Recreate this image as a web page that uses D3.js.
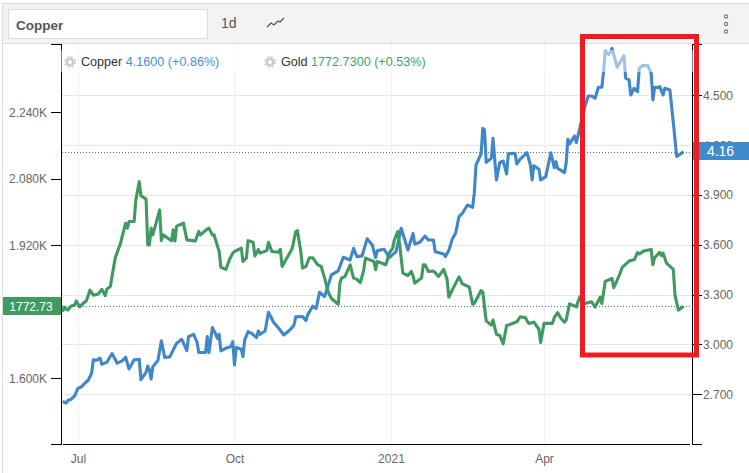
<!DOCTYPE html>
<html>
<head>
<meta charset="utf-8">
<script src="https://cdn.jsdelivr.net/npm/d3@7/dist/d3.min.js"></script>
<style>
    html, body { margin: 0; padding: 0; background: #fff; }
    svg { display: block; font-family: "Liberation Sans", Arial, sans-serif; }
    .tick text { fill: #666; font-size: 12px; }
    .axis path, .axis line { stroke: #000; shape-rendering: crispEdges; }
</style>
</head>
<body>
<div id="chart"></div>
<script>
// all days are counted from 1 Jul 2020
var copperDays = [-9,-7,-6,-4,-2,0,2,4,6,8,9,11,13,14,17,20,22,23,26,28,30,33,36,37,40,41,42,43,44,47,49,51,54,56,58,61,64,65,68,70,71,75,76,77,79,81,82,83,84,87,90,91,92,93,96,97,98,100,102,105,106,107,110,112,115,118,121,125,127,128,132,134,135,138,140,142,145,149,153,156,160,162,164,167,170,173,175,176,180,183,187,190,194,197,198,201,204,206,209,210,215,216,218,220,222,224,226,229,232,233,234,237,238,239,240,243,244,246,248,250,252,253,257,258,260,264,266,267,268,271,272,275,278,280,281,282,286,287,288,289,292,293,295,298,300,302,304,306,308,309,310,312,313,314,317,321,322,324,325,327,329,330,332,335,337,338,339,341,342,344,345,348,350,352,356];
var copperValues = [2.656,2.646,2.662,2.670,2.690,2.736,2.744,2.766,2.784,2.826,2.907,2.905,2.917,2.880,2.893,2.945,2.907,2.887,2.901,2.923,2.852,2.907,2.911,2.788,2.832,2.870,2.846,2.792,2.866,2.903,3.021,2.921,2.925,2.967,3.007,3.031,2.963,3.047,3.061,3.013,2.951,2.951,3.047,2.951,3.101,3.061,3.037,3.061,2.961,2.977,2.987,3.017,2.876,2.981,2.971,2.927,3.027,3.077,3.067,3.041,3.081,3.061,3.081,3.194,3.134,3.097,3.057,3.091,3.117,3.166,3.168,3.144,3.178,3.230,3.216,3.314,3.288,3.419,3.443,3.525,3.509,3.579,3.529,3.533,3.636,3.599,3.523,3.565,3.573,3.523,3.559,3.700,3.569,3.669,3.605,3.615,3.653,3.629,3.629,3.559,3.545,3.529,3.565,3.633,3.670,3.770,3.790,3.840,3.826,3.911,4.081,4.148,4.302,4.292,4.097,4.121,4.242,3.991,4.097,4.105,4.027,4.148,4.152,4.087,4.117,4.155,4.081,3.991,4.077,4.055,3.991,4.011,4.155,4.065,4.101,4.061,4.035,4.091,4.236,4.208,4.256,4.216,4.302,4.433,4.497,4.497,4.483,4.549,4.549,4.644,4.768,4.748,4.760,4.784,4.670,4.740,4.604,4.594,4.503,4.543,4.523,4.664,4.680,4.680,4.634,4.473,4.549,4.547,4.553,4.503,4.543,4.533,4.338,4.132,4.16];

var goldDays = [-9,-8,-6,-4,-2,-1,1,3,5,7,9,12,14,16,17,19,21,22,25,28,29,30,33,34,36,37,40,41,42,43,44,48,49,50,55,56,57,58,62,64,69,71,72,76,77,79,80,83,84,87,89,91,92,96,97,99,100,103,104,106,107,111,112,114,118,119,120,125,126,128,129,131,132,134,136,138,141,143,145,147,149,153,154,155,157,160,162,164,166,168,169,174,175,176,181,183,185,186,188,189,191,194,196,197,198,202,203,204,206,209,212,215,217,218,220,224,226,230,232,233,237,238,240,243,244,246,248,250,252,253,258,260,263,265,268,271,272,274,279,280,282,284,286,287,289,293,295,298,302,304,307,308,310,314,315,318,320,324,327,329,330,333,337,338,339,342,343,344,346,350,351,353,356];
var goldValues = [1760,1771,1764,1774,1776,1786,1772,1780,1787,1812,1800,1803,1814,1799,1815,1821,1869,1891,1925,1973,1961,1977,1977,2029,2073,2039,2031,1921,1921,1961,1945,2005,1931,1945,1931,1957,1930,1966,1973,1933,1930,1953,1945,1959,1961,1945,1945,1905,1867,1862,1885,1901,1905,1913,1881,1889,1931,1927,1894,1910,1901,1907,1927,1905,1903,1910,1869,1905,1913,1953,1955,1905,1865,1869,1890,1890,1873,1869,1841,1808,1792,1778,1829,1841,1845,1873,1841,1838,1830,1861,1889,1881,1861,1881,1873,1901,1913,1933,1953,1925,1853,1847,1857,1846,1829,1841,1873,1873,1857,1858,1845,1862,1838,1795,1812,1844,1827,1820,1778,1780,1811,1807,1738,1728,1740,1706,1703,1683,1727,1728,1736,1748,1746,1732,1735,1718,1686,1732,1732,1746,1758,1744,1735,1740,1779,1772,1796,1780,1784,1771,1795,1780,1833,1840,1818,1845,1867,1882,1885,1902,1899,1907,1910,1873,1890,1903,1895,1901,1877,1862,1800,1764,1772.73];

// 1.760K is hidden behind the price box in the picture, so it has no tick here
var leftTicks = [1600, 1920, 2080, 2240];
var rightTicks = [2.7, 3.0, 3.3, 3.6, 3.9, 4.2, 4.5];
var monthTicks = [0, 92, 184, 274];
var monthLabels = ["Jul", "Oct", "2021", "Apr"];

var startDate = new Date(2020, 6, 1);
function toDate(day) {
    return d3.timeDay.offset(startDate, day);
}

var width = 749, height = 473;
var plotTop = 44, plotBottom = 444, plotLeft = 61, plotRight = 692;

var svg = d3.select("#chart").append("svg")
    .attr("width", width)
    .attr("height", height);

var x = d3.scaleTime()
    .domain([toDate(-9), toDate(361)])
    .range([62.7, plotRight]);
var yGold = d3.scaleLinear()
    .domain([1442, 2404])
    .range([plotBottom, plotTop]);
var yCopper = d3.scaleLinear()
    .domain([2.4, 4.81])
    .range([plotBottom, plotTop]);

//outer frame and header
svg.append("rect").attr("x", 2).attr("y", 3).attr("width", 1).attr("height", 470).attr("fill", "#ddd");
svg.append("rect").attr("x", 3).attr("y", 3).attr("width", 746).attr("height", 41).attr("fill", "#f3f3f3");
svg.append("rect").attr("x", 2).attr("y", 3).attr("width", 747).attr("height", 1).attr("fill", "#ddd");
svg.append("rect").attr("x", 3).attr("y", 43).attr("width", 746).attr("height", 1).attr("fill", "#ddd");
svg.append("rect").attr("x", 8.5).attr("y", 9.5).attr("width", 199).attr("height", 29)
    .attr("fill", "#fff").attr("stroke", "#ddd");
svg.append("text").attr("x", 16).attr("y", 30).text("Copper")
    .attr("font-size", 13.5).attr("font-weight", "bold").attr("fill", "#555");
svg.append("text").attr("x", 221).attr("y", 28).text("1d")
    .attr("font-size", 14).attr("fill", "#555");
svg.append("path").attr("d", "M267 27L271 23L274 25L278 21L280 22L284 18")
    .attr("fill", "none").attr("stroke", "#555").attr("stroke-width", 1.3);
[16.5, 24, 31.5].forEach(function (cy) {
    svg.append("circle").attr("cx", 726).attr("cy", cy).attr("r", 1.6)
        .attr("fill", "#fff").attr("stroke", "#777").attr("stroke-width", 1.2);
});

//grid
var grid = svg.append("g").attr("shape-rendering", "crispEdges");
grid.selectAll(".hgrid").data(rightTicks).enter().append("line")
    .attr("x1", 62).attr("x2", plotRight)
    .attr("y1", function (d) { return Math.round(yCopper(d)) + 0.5; })
    .attr("y2", function (d) { return Math.round(yCopper(d)) + 0.5; })
    .attr("stroke", "#e6e6e6");
grid.selectAll(".vgrid").data(monthTicks).enter().append("line")
    .attr("x1", function (d) { return Math.round(x(toDate(d))) + 0.5; })
    .attr("x2", function (d) { return Math.round(x(toDate(d))) + 0.5; })
    .attr("y1", plotTop).attr("y2", plotBottom)
    .attr("stroke", "#eef2f7");

//axes
var leftAxis = d3.axisLeft(yGold)
    .tickValues(leftTicks)
    .tickSize(10)
    .tickPadding(4)
    .tickFormat(function (d) { return (d / 1000).toFixed(3) + "K"; });
svg.append("g").attr("class", "axis")
    .attr("transform", "translate(" + plotLeft + ",0)")
    .call(leftAxis);

var rightAxis = d3.axisRight(yCopper)
    .tickValues(rightTicks)
    .tickSize(10)
    .tickPadding(1)
    .tickFormat(d3.format(".3f"));
svg.append("g").attr("class", "axis")
    .attr("transform", "translate(" + plotRight + ",0)")
    .call(rightAxis);

var bottomAxis = d3.axisBottom(x)
    .tickValues(monthTicks.map(toDate))
    .tickSize(0)
    .tickPadding(10)
    .tickFormat(function (d, i) { return monthLabels[i]; });
svg.append("g").attr("class", "axis")
    .attr("transform", "translate(0," + plotBottom + ")")
    .call(bottomAxis)
    .select(".domain")
    .attr("d", "M63,0.5H690");

//last value lines
function lastLine(yPos, color) {
    svg.append("line")
        .attr("x1", 62).attr("x2", plotRight)
        .attr("y1", Math.round(yPos) + 0.5).attr("y2", Math.round(yPos) + 0.5)
        .attr("stroke", color)
        .attr("stroke-dasharray", "1,2")
        .attr("shape-rendering", "crispEdges");
}
lastLine(yCopper(4.16), "#2f6f9f");
lastLine(yGold(1772.73), "#2f8a50");

//series, copper goes under gold
function drawSeries(days, values, yScale, color) {
    var line = d3.line()
        .x(function (d) { return x(toDate(d)); })
        .y(function (d, i) { return yScale(values[i]); });
    svg.append("path")
        .attr("d", line(days))
        .attr("fill", "none")
        .attr("stroke", color)
        .attr("stroke-width", 3.1)
        .attr("stroke-linejoin", "round");
}
drawSeries(copperDays, copperValues, yCopper, "#3f87c9");
drawSeries(goldDays, goldValues, yGold, "#409a60");

//legend sits on a half white band
svg.append("rect").attr("x", 60).attr("y", 50).attr("width", 634).attr("height", 22)
    .attr("fill", "#fff").attr("fill-opacity", 0.5);

function gear(cx, cy) {
    svg.append("circle").attr("cx", cx).attr("cy", cy).attr("r", 3.2)
        .attr("fill", "none").attr("stroke", "#ccc").attr("stroke-width", 2.6);
    svg.append("circle").attr("cx", cx).attr("cy", cy).attr("r", 5.2)
        .attr("fill", "none").attr("stroke", "#ccc").attr("stroke-width", 1.6)
        .attr("stroke-dasharray", "2.1,2");
}
gear(70, 62);
gear(270, 62);

var legendCopper = svg.append("text").attr("x", 81).attr("y", 66).attr("font-size", 12.6);
legendCopper.append("tspan").attr("fill", "#333").text("Copper ");
legendCopper.append("tspan").attr("fill", "#4a8fd0").text("4.1600 (+0.86%)");
var legendGold = svg.append("text").attr("x", 281).attr("y", 66).attr("font-size", 12.6);
legendGold.append("tspan").attr("fill", "#333").text("Gold ");
legendGold.append("tspan").attr("fill", "#46a06a").text("1772.7300 (+0.53%)");

//price boxes
svg.append("rect").attr("x", 693).attr("y", 142).attr("width", 56).attr("height", 18).attr("fill", "#428bca");
svg.append("text").attr("x", 720.5).attr("y", 156).attr("text-anchor", "middle")
    .attr("font-size", 14).attr("fill", "#fff").text("4.16");
svg.append("rect").attr("x", 3).attr("y", 297).attr("width", 58).attr("height", 18).attr("fill", "#3f9b60");
svg.append("text").attr("x", 31).attr("y", 310.5).attr("text-anchor", "middle")
    .attr("font-size", 12).attr("fill", "#fff").text("1772.73");

//red marker on top of everything
svg.append("rect").attr("x", 582.5).attr("y", 36.5).attr("width", 114).attr("height", 318.5)
    .attr("fill", "none").attr("stroke", "#ed1c24").attr("stroke-width", 5);
</script>
</body>
</html>
